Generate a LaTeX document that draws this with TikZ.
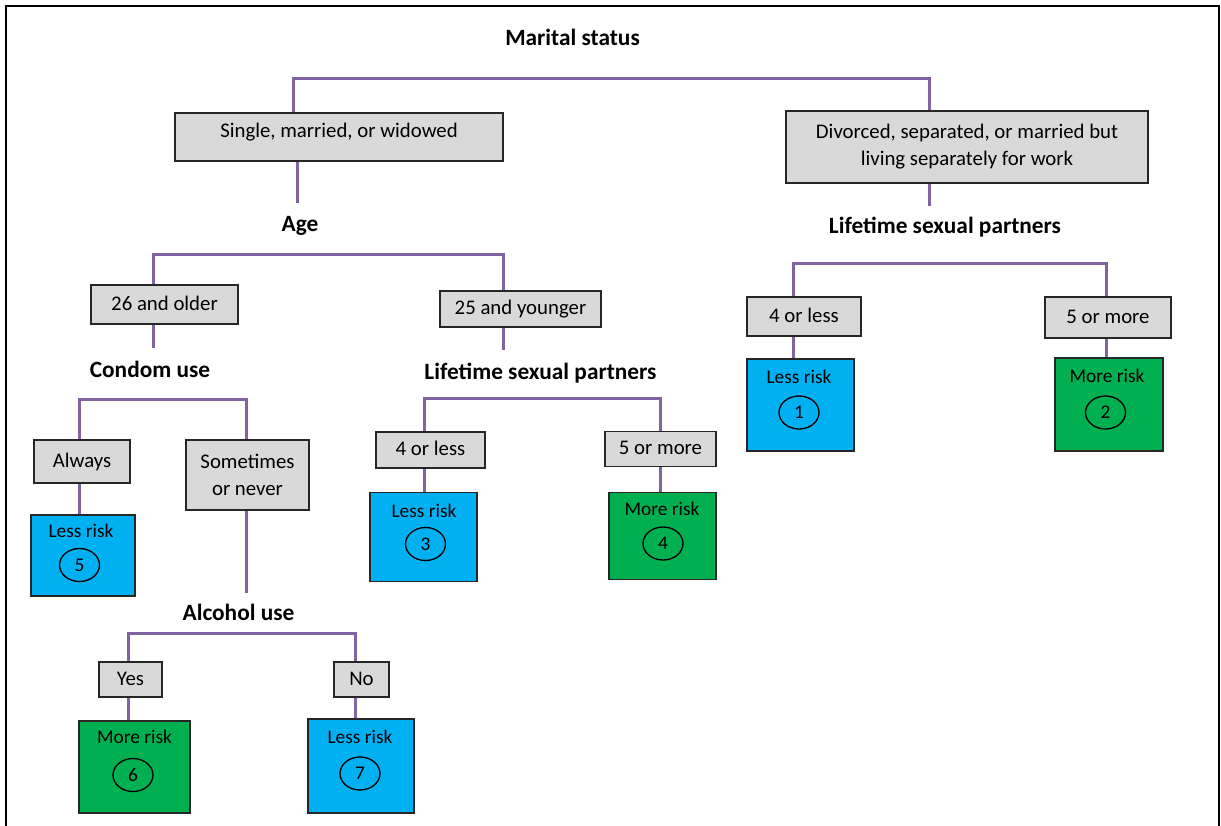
\documentclass[tikz,border=0pt]{standalone}
\usepackage{fontspec}
\setmainfont{Carlito}
\usetikzlibrary{shapes.geometric}
\definecolor{linkpurple}{HTML}{8064A2}
\definecolor{boxgray}{HTML}{D9D9D9}
\definecolor{lessblue}{HTML}{00B0F0}
\definecolor{moregreen}{HTML}{00B050}
\definecolor{edge}{HTML}{262626}
\begin{document}
\begin{tikzpicture}[x=0.75pt,y=-0.75pt,
  conn/.style={draw=linkpurple,line width=2.25pt},
  sz/.style 2 args={minimum width=#1*0.75pt,minimum height=#2*0.75pt},
  choice/.style={draw=edge,line width=1.2pt,fill=boxgray,inner sep=0pt,
    font=\fontsize{15.6}{20.3}\selectfont,align=center},
  oneline/.style={text height=1.0em,text depth=0.12em},
  heading/.style={font=\bfseries\fontsize{17.5}{20}\selectfont,inner sep=0pt,
    text height=1.25em,text depth=0.12em},
  outcome/.style={draw=edge,line width=1.2pt,inner sep=0pt},
  less/.style={outcome,fill=lessblue},
  more/.style={outcome,fill=moregreen},
  risk/.style={font=\fontsize{14.5}{17}\selectfont,inner sep=0pt,
    text height=0.95em,text depth=0.12em},
  num/.style={draw=black,line width=1pt,ellipse,inner sep=0pt,
    minimum width=40*0.75pt,minimum height=33*0.75pt,
    font=\fontsize{14.5}{17}\selectfont}
]
\useasboundingbox (0,0) rectangle (1221,825);
% page frame, open at the bottom
\draw[line width=1.6pt] (6,830) -- (6,6) -- (1219,6) -- (1219,830);

% question headings
\node[heading] (marital) at (572.5,38) {Marital status};
\node[heading] (age) at (300,224) {Age};
\node[heading] (lspR) at (945,226) {Lifetime sexual partners};
\node[heading] (condom) at (150,370) {Condom use};
\node[heading] (lspM) at (540.5,372) {Lifetime sexual partners};
\node[heading] (alcohol) at (238.5,613) {Alcohol use};

% answer boxes
\node[choice,sz={328}{48},text height=9pt,text depth=8.3pt] (single) at (339,137) {Single, married, or widowed};
\node[choice,sz={362}{72}] (divorced) at (967,147) {Divorced, separated, or married but\\living separately for work};
\node[choice,oneline,sz={147}{39}] (old) at (164.5,304.5) {26 and older};
\node[choice,oneline,sz={161}{36}] (young) at (520.5,309) {25 and younger};
\node[choice,oneline,sz={109}{36}] (lessM) at (430.5,450) {4 or less};
\node[choice,oneline,sz={111}{35}] (moreM) at (660.5,449) {5 or more};
\node[choice,oneline,sz={114}{39}] (lessR) at (804,316.5) {4 or less};
\node[choice,oneline,sz={126}{41}] (moreR) at (1108,317.5) {5 or more};
\node[choice,oneline,sz={96}{43}] (always) at (82,461.5) {Always};
\node[choice,sz={123}{70}] (sometimes) at (247.5,475) {Sometimes\\or never};
\node[choice,oneline,sz={63}{35}] (yes) at (130.5,679.5) {Yes};
\node[choice,oneline,sz={55}{35}] (no) at (361.5,679.5) {No};

% outcome boxes
\node[less,sz={107}{92}] (r1) at (800.5,405) {};
\node[risk] (r1t) at (799,378) {Less risk};
\node[num] (r1n) at (799,412.5) {1};

\node[more,sz={108}{93}] (r2) at (1109,404.5) {};
\node[risk] (r2t) at (1107,377) {More risk};
\node[num] (r2n) at (1105.5,412.5) {2};

\node[less,sz={107}{89}] (r3) at (423.5,537) {};
\node[risk] (r3t) at (424,512) {Less risk};
\node[num] (r3n) at (425.5,544) {3};

\node[more,sz={107}{87}] (r4) at (662.5,536) {};
\node[risk] (r4t) at (662,510) {More risk};
\node[num] (r4n) at (663,543.5) {4};

\node[less,sz={104}{81}] (r5) at (83,555.5) {};
\node[risk] (r5t) at (81,532) {Less risk};
\node[num] (r5n) at (79.5,565) {5};

\node[more,sz={111}{92}] (r6) at (134.5,767) {};
\node[risk] (r6t) at (134.5,738) {More risk};
\node[num] (r6n) at (133,775) {6};

\node[less,sz={106}{94}] (r7) at (361,766) {};
\node[risk] (r7t) at (360,738) {Less risk};
\node[num] (r7n) at (360,773.5) {7};

% bracket corners and free line ends
\coordinate (msL) at (293,78);   \coordinate (msR) at (929,78);
\coordinate (ageTop) at (297,203);
\coordinate (lspRTop) at (929,206);
\coordinate (lrL) at (793,263);  \coordinate (lrR) at (1106,263);
\coordinate (ageL) at (153,254); \coordinate (ageR) at (503,254);
\coordinate (condomTop) at (153,348);
\coordinate (lspMTop) at (503,350);
\coordinate (cuL) at (79,399);   \coordinate (cuR) at (246,399);
\coordinate (alcTop) at (246,593);
\coordinate (lmL) at (424,398);  \coordinate (lmR) at (660,398);
\coordinate (auL) at (128,633);  \coordinate (auR) at (355,633);

% connectors
\draw[conn] (single.north -| msL) -- (msL) -- (msR) -- (divorced.north -| msR);
\draw[conn] (single.south -| ageTop) -- (ageTop);
\draw[conn] (divorced.south -| lspRTop) -- (lspRTop);
\draw[conn] (lessR.north -| lrL) -- (lrL) -- (lrR) -- (moreR.north -| lrR);
\draw[conn] (lessR.south -| lrL) -- (r1.north -| lrL);
\draw[conn] (moreR.south -| lrR) -- (r2.north -| lrR);
\draw[conn] (old.north -| ageL) -- (ageL) -- (ageR) -- (young.north -| ageR);
\draw[conn] (old.south -| condomTop) -- (condomTop);
\draw[conn] (young.south -| lspMTop) -- (lspMTop);
\draw[conn] (always.north -| cuL) -- (cuL) -- (cuR) -- (sometimes.north -| cuR);
\draw[conn] (always.south -| cuL) -- (r5.north -| cuL);
\draw[conn] (sometimes.south -| alcTop) -- (alcTop);
\draw[conn] (lessM.north -| lmL) -- (lmL) -- (lmR) -- (moreM.north -| lmR);
\draw[conn] (lessM.south -| lmL) -- (r3.north -| lmL);
\draw[conn] (moreM.south -| lmR) -- (r4.north -| lmR);
\draw[conn] (yes.north -| auL) -- (auL) -- (auR) -- (no.north -| auR);
\draw[conn] (yes.south -| auL) -- (r6.north -| auL);
\draw[conn] (no.south -| auR) -- (r7.north -| auR);
\end{tikzpicture}
\end{document}
